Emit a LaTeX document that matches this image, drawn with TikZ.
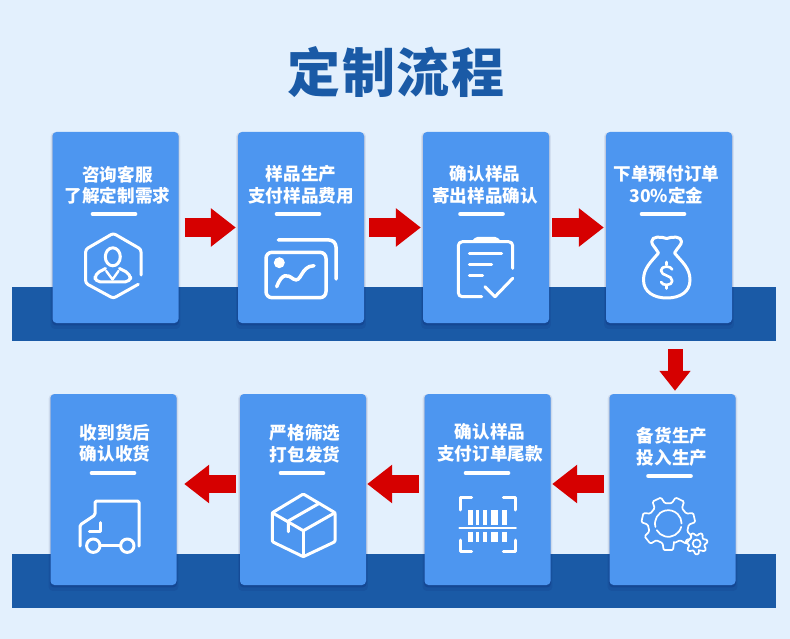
\documentclass[tikz,border=0pt]{standalone}
\usepackage{fontspec}
\newfontfamily\cjk{Noto Sans CJK SC}
\usepackage{tikz}
\usetikzlibrary{positioning,arrows.meta,shadows}
\definecolor{fond}{HTML}{E3F0FD}
\definecolor{bande}{HTML}{1A5AA6}
\definecolor{carte}{HTML}{4D96F0}
\definecolor{rouge}{HTML}{D60000}
% Engrenage a 7 dents
\newcommand{\gearicon}[4]{%
\begin{scope}[shift={(#1,#2)}]
\draw[iconthin, rounded corners=1.2pt] (90-16:#4) \foreach \i in {0,...,6} { -- (\i*51.43+90-16:#4) -- (\i*51.43+90-10:#3) -- (\i*51.43+90+10:#3) -- (\i*51.43+90+16:#4)} -- cycle;
\end{scope}}

\begin{document}
\begin{tikzpicture}[x=1pt, y=-1pt,
    cardbox/.style={fill=carte, rounded corners=4pt, minimum width=126pt, minimum height=191pt, inner sep=0pt,
      general shadow={shadow xshift=0pt, shadow yshift=-3pt, shadow scale=1.03, fill=black!70!blue, opacity=.07},
      general shadow={shadow xshift=0pt, shadow yshift=-1.5pt, shadow scale=1.01, fill=black!70!blue, opacity=.14}},
    cardtext/.style={align=center, text=white, inner sep=0pt, font=\cjk\bfseries\fontsize{17.6}{21.5}\selectfont},
    redarrow/.style={draw=rouge, line width=18.5pt, -{Triangle[length=25pt, width=37pt]}},
    barline/.style={white, line width=4.7pt, line cap=round},
    iconline/.style={white, line width=3pt, line cap=round, line join=round},
    iconthin/.style={white, line width=1.7pt, line cap=round, line join=round}]
\useasboundingbox (0,0) rectangle (790,639);
% Fond
\fill[fond] (0,0) rectangle (790,639);
\fill[bande] (12,287) rectangle (776,341);
\fill[bande] (12,554) rectangle (776,608);
% Titre
\node[text=bande, inner sep=0pt, font=\cjk\bfseries\fontsize{53}{60}\selectfont] (titre) at (396,72) {定\hspace{1.5pt}制\hspace{1.5pt}流\hspace{1.5pt}程};
% Cartes
\foreach \nom/\xc/\yc in {card1/115.5/227.5, card2/301/227.5, card3/486/227.5, card4/669/227.5, card5/672.5/489.5, card6/487.5/489.5, card7/303/489.5, card8/113.5/489.5}
  \node[cardbox] (\nom) at (\xc,\yc) {};
% Textes
\node[cardtext] (texte1) at (117.5,185) {咨询客服\\了解定制需求};
\node[cardtext] (texte2) at (301,185) {样品生产\\支付样品费用};
\node[cardtext] (texte3) at (485,185) {确认样品\\寄出样品确认};
\node[cardtext] (texte4) at (666.5,185) {下单预付订单\\30\%定金};
\node[cardtext] (texte5) at (672,447) {备货生产\\投入生产};
\node[cardtext] (texte6) at (490,443) {确认样品\\支付订单尾款};
\node[cardtext] (texte7) at (305,443.5) {严格筛选\\打包发货};
\node[cardtext] (texte8) at (115,443.5) {收到货后\\确认收货};
% Traits sous les textes
\foreach \xa/\ya in {93/214, 277/214, 460.5/214, 642/214, 648.5/476, 466/473, 281/473, 92/473}
  \draw[barline] (\xa,\ya) -- ++(42,0);
% Fleches
\draw[redarrow, shorten <=6pt, shorten >=2pt] (card1.east) -- (card2.west);
\draw[redarrow, shorten <=5pt, shorten >=2pt] (card2.east) -- (card3.west);
\draw[redarrow, shorten <=3pt, shorten >=2pt] (card3.east) -- (card4.west);
\draw[redarrow, line width=15pt, -{Triangle[length=20pt, width=30pt]}, shorten <=26pt, shorten >=3pt] ([xshift=6pt]card4.south) -- ([xshift=2.5pt]card5.north);
\draw[redarrow, shorten <=5.5pt, shorten >=1.5pt] ([yshift=5.5pt]card5.west) -- ([yshift=5.5pt]card6.east);
\draw[redarrow, shorten <=5.5pt, shorten >=1pt] ([yshift=5.5pt]card6.west) -- ([yshift=5.5pt]card7.east);
\draw[redarrow, shorten <=4pt, shorten >=7.5pt] ([yshift=5.5pt]card7.west) -- ([yshift=5.5pt]card8.east);
% Icone conseiller
\draw[iconline, rounded corners=2.5pt] (141,275) -- (141,249.3) -- (113.3,233.3) -- (85.7,249.3) -- (85.7,283.3) -- (113.3,298.3) -- (138.3,284.3);
\draw[iconline] (112.8,256.8) ellipse (7.5 and 9);
\draw[iconline, rounded corners=5pt] (105.5,268.5) -- (95,274) -- (95,281.8) -- (130.5,281.8) -- (130.5,274) -- (119.5,268.5);
\draw[iconline, line width=2.4pt] (106.2,271) -- (112.5,279.5) -- (118.5,271);
% Icone image
\draw[iconline, line width=3.5pt, rounded corners=7pt] (278.3,240) -- (336,240) -- (336,279);
\draw[iconline, line width=3.5pt, rounded corners=6pt] (266,252.3) -- (326,252.3) -- (326,297.7) -- (266,297.7) -- cycle;
\fill[white] (279.3,262.7) circle (5.5);
\draw[iconline, line width=3.5pt] (276.7,286.7) .. controls (282,273) and (287,274) .. (293.3,279) .. controls (302,284) and (300,266) .. (314,265.7);
% Icone bloc-notes
\draw[iconline, rounded corners=4pt] (512.7,268.3) -- (512.7,241.7) -- (458.3,241.7) -- (458.3,296.7) -- (481.7,296.7);
\draw[iconline, rounded corners=1.5pt] (473.3,241.7) -- (476.7,238.3) -- (496,238.3) -- (499.3,241.7);
\draw[iconline] (469.3,253.3) -- (501.7,253.3);
\draw[iconline] (469.3,264.3) -- (491.7,264.3);
\draw[iconline] (469.3,275.7) -- (482.7,275.7);
\draw[iconline] (485,286.7) -- (495,296.7) -- (512.7,278.3);
% Icone sac
\draw[iconline] (674.5,253) .. controls (678,247) and (681.5,245) .. (681.5,241.5) .. controls (681.5,236) and (672,236.5) .. (666.7,238.5) .. controls (661,236.5) and (651.7,236) .. (651.7,241.5) .. controls (651.7,245) and (655,247) .. (658.5,253) .. controls (651,262) and (643.5,268) .. (643.5,280) .. controls (643.5,292) and (654,298) .. (666.7,298) .. controls (680,298) and (690,292) .. (690,280) .. controls (690,268) and (682,262) .. (674.5,253) -- cycle;
\draw[iconline, line width=2.6pt] (672.3,269.5) .. controls (671,265.5) and (661,265.5) .. (661,270.5) .. controls (661,276.5) and (672.3,274.5) .. (672.3,281) .. controls (672.3,286) and (662,286) .. (661,282);
\draw[iconline, line width=2.6pt] (666.7,262) -- (666.7,265);
\draw[iconline, line width=2.6pt] (666.7,285.5) -- (666.7,288.5);
% Icone engrenages
\gearicon{668.3}{523.5}{27}{20.5}
\draw[iconthin] (668.3,523.5) ++(15:13.3) arc (15:150:13.3);
\draw[iconthin] (668.3,523.5) ++(165:13.3) arc (165:360:13.3);
\gearicon{696.7}{543.5}{11}{8}
\draw[iconthin] (696.7,543.5) circle (4);
% Icone code-barres
\draw[iconline] (460,510) -- (460,497.7) -- (471.7,497.7);
\draw[iconline] (503.3,497.7) -- (515,497.7) -- (515,510);
\draw[iconline] (460,540) -- (460,551.7) -- (471.7,551.7);
\draw[iconline] (503.3,551.7) -- (515,551.7) -- (515,540);
\draw[iconthin] (459.3,528.3) -- (516,528.3);
\foreach \xa/\xb in {468.3/473.3, 476/479.3, 482.7/487.3, 490.7/498.3, 501.7/506.7} {
  \fill[white] (\xa,510) rectangle (\xb,525);
  \fill[white] (\xa,531.7) rectangle (\xb,541.7);
}
% Icone carton
\draw[iconline, rounded corners=1pt] (303.3,494) -- (335,512.7) -- (335,541.7) -- (303.3,556.7) -- (272.3,541.7) -- (272.3,512.7) -- cycle;
\draw[iconline] (272.3,512.7) -- (303.3,530.7) -- (335,512.7);
\draw[iconline] (303.3,530.7) -- (303.3,556.7);
\draw[iconline] (319.3,503.3) -- (288.3,521) -- (288.3,531.7);
% Icone camion
\draw[iconline, rounded corners=1.5pt] (80,546) -- (80,525) -- (95,515) -- (95,501) -- (139,501) -- (139,546);
\draw[iconline] (100,522.7) -- (100,531.7) -- (89.3,531.7);
\draw[iconline] (93.3,545.7) circle (6.7);
\draw[iconline] (127.3,545.7) circle (6.7);
\draw[iconline] (100,545.7) -- (120.6,545.7);
\end{tikzpicture}
\end{document}
